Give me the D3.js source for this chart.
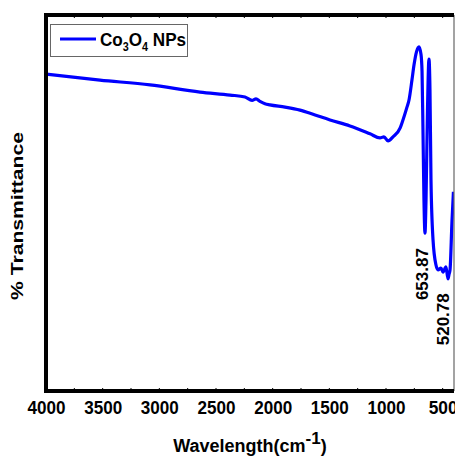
<!DOCTYPE html>
<html>
<head>
<meta charset="utf-8">
<script src="https://cdn.jsdelivr.net/npm/d3@7"></script>
<style>
  body { margin: 0; background: #fff; }
  text { font-family: "Liberation Sans", Arial, sans-serif; font-weight: bold; fill: #000; }
</style>
</head>
<body>
<svg id="chart" width="455" height="457"></svg>
<script>
// dados (numero de onda em cm-1 e % transmitancia)
var numeroOnda = [4000, 3524, 3082, 2641, 2376, 2244, 2182, 2147, 2112, 2068, 2024, 1891,
    1759, 1626, 1494, 1318, 1141, 1053, 1018, 982, 938, 876, 859, 815, 797, 771, 753,
    731, 709, 691, 682, 674, 665, 656, 647, 634, 621, 612, 603, 585, 559, 541, 515,
    497, 471, 453, 444, 435, 418, 405];
var transmitancia = [84.3, 82.7, 81.4, 79.5, 78.7, 78.2, 77.3, 77.7, 77.0, 76.4, 76.1, 75.5,
    74.7, 73.4, 72.1, 70.5, 68.4, 67.3, 67.6, 66.5, 67.6, 69.9, 71.3, 75.5, 77.4, 82.7, 86.7,
    90.2, 91.5, 89.5, 85.0, 70.0, 50.8, 42.0, 50.8, 74.7, 88.3, 80.1, 56.1, 40.2, 33.5, 32.2, 32.7,
    31.6, 33.0, 29.8, 31.0, 32.2, 45.0, 53.0];
var xTicks = [4000, 3500, 3000, 2500, 2000, 1500, 1000, 500];
var picos = [653.87, 520.78];
var topoPicos = [38, 26]; // altura (%) onde o rotulo comeca
var legenda = ["Co", "3", "O", "4", " NPs"];

var dados = numeroOnda.map(function (w, i) { return { w: w, t: transmitancia[i] }; });

var svg = d3.select("#chart");
var esq = 46, dir = 454, topo = 15, base = 391;

var x = d3.scaleLinear().domain([4000, 400]).range([esq, dir]);
var y = d3.scaleLinear().domain([0, 100]).range([base, topo]);

svg.append("clipPath").attr("id", "area")
    .append("rect").attr("x", esq).attr("y", topo).attr("width", dir - esq).attr("height", base - topo);

// linha do espectro
var linha = d3.line()
    .x(function (d) { return x(d.w); })
    .y(function (d) { return y(d.t); })
    .curve(d3.curveMonotoneX);

svg.append("path")
    .datum(dados)
    .attr("clip-path", "url(#area)")
    .attr("d", linha)
    .attr("fill", "none")
    .attr("stroke", "#0000ff")
    .attr("stroke-width", 3.2)
    .attr("stroke-linejoin", "round");

// eixo x
var eixoX = d3.axisBottom(x).tickValues(xTicks).tickSize(0).tickPadding(10)
    .tickFormat(d3.format("d"));
var gx = svg.append("g").attr("transform", "translate(0," + base + ")").call(eixoX);
gx.select(".domain").remove();
gx.selectAll("text").style("font-size", "18px").style("font-family", "Liberation Sans, Arial")
    .style("font-weight", "bold")
    .attr("textLength", function (d) { return d >= 1000 ? 38 : 29; })
    .attr("lengthAdjust", "spacingAndGlyphs");

// ticks pequenos para dentro
var menores = d3.range(4000, 399, -250);
svg.selectAll(".tk").data(menores).enter().append("line")
    .attr("x1", function (d) { return x(d); }).attr("x2", function (d) { return x(d); })
    .attr("y1", base).attr("y2", base - 3).attr("stroke", "#000").attr("stroke-width", 1);
svg.selectAll(".tkt").data(menores).enter().append("line")
    .attr("x1", function (d) { return x(d); }).attr("x2", function (d) { return x(d); })
    .attr("y1", topo).attr("y2", topo + 3).attr("stroke", "#000").attr("stroke-width", 1);

// moldura
svg.append("line").attr("x1", dir).attr("x2", dir).attr("y1", topo).attr("y2", base)
    .attr("stroke", "#666").attr("stroke-width", 1.2);
svg.append("line").attr("x1", esq - 2).attr("x2", dir).attr("y1", topo).attr("y2", topo)
    .attr("stroke", "#000").attr("stroke-width", 4);
svg.append("line").attr("x1", esq - 2).attr("x2", dir).attr("y1", base).attr("y2", base)
    .attr("stroke", "#000").attr("stroke-width", 4);
svg.append("line").attr("x1", esq).attr("x2", esq).attr("y1", topo - 2).attr("y2", base + 2)
    .attr("stroke", "#000").attr("stroke-width", 4);

// rotulos dos picos
var desloc = [3, 9];
svg.selectAll(".pico").data(picos).enter().append("text")
    .attr("transform", function (d, i) {
        return "translate(" + (x(d) + desloc[i]) + "," + y(topoPicos[i]) + ") rotate(-90)";
    })
    .attr("text-anchor", "end")
    .style("font-size", "17px")
    .text(function (d) { return d.toFixed(2); });

// titulos dos eixos
var tx = svg.append("text").attr("x", 250).attr("y", 452).attr("text-anchor", "middle")
    .style("font-size", "18px");
tx.append("tspan").text("Wavelength(cm");
tx.append("tspan").attr("dy", -8).style("font-size", "17px").text("-1");
tx.append("tspan").attr("dy", 8).text(")");

svg.append("text")
    .attr("transform", "translate(23,216) rotate(-90)")
    .attr("text-anchor", "middle")
    .attr("textLength", 168).attr("lengthAdjust", "spacingAndGlyphs")
    .style("font-size", "16px")
    .text("% Transmittance");

// legenda
var leg = svg.append("g");
leg.append("rect").attr("x", 50.5).attr("y", 24.5).attr("width", 137).attr("height", 32)
    .attr("fill", "#fff").attr("stroke", "#666").attr("stroke-width", 1);
leg.append("line").attr("x1", 60).attr("x2", 96).attr("y1", 39).attr("y2", 39)
    .attr("stroke", "#0000ff").attr("stroke-width", 3.2);
var lt = leg.append("text").attr("transform", "translate(100,46) scale(0.9,1)")
    .style("font-size", "19px");
lt.selectAll("tspan").data(legenda).enter().append("tspan")
    .attr("dy", function (d, i) { return i === 0 ? 0 : (i % 2 === 1 ? 5 : -5); })
    .style("font-size", function (d, i) { return i % 2 === 1 ? "12px" : null; })
    .text(function (d) { return d; });
</script>
</body>
</html>
